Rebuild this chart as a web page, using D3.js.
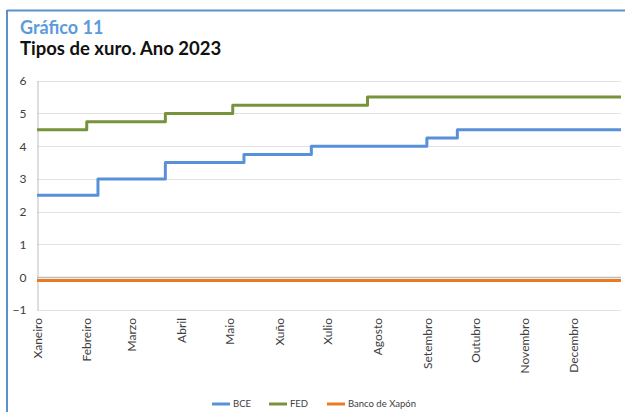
<!DOCTYPE html>
<html>
<head>
<meta charset="utf-8">
<script src="https://cdn.jsdelivr.net/npm/d3@7"></script>
<style>
  html, body { margin: 0; padding: 0; background: #fff; }
  svg { display: block; }
</style>
</head>
<body>
<svg id="chart" width="625" height="412"></svg>
<script>
// Month labels shown along the x axis (Galician)
const months = ["Xaneiro", "Febreiro", "Marzo", "Abril", "Maio", "Xuño",
                "Xulio", "Agosto", "Setembro", "Outubro", "Novembro", "Decembro"];

// Policy rates: dates where each rate takes a new value (step after)
const bceDates  = ["2023-01-01", "2023-02-08", "2023-03-22", "2023-05-10", "2023-06-21", "2023-09-01", "2023-09-20", "2023-12-31"];
const bceValues = [2.5, 3.0, 3.5, 3.75, 4.0, 4.25, 4.5, 4.5];

const fedDates  = ["2023-01-01", "2023-02-01", "2023-03-22", "2023-05-03", "2023-07-26", "2023-12-31"];
const fedValues = [4.5, 4.75, 5.0, 5.25, 5.5, 5.5];

const bojDates  = ["2023-01-01", "2023-12-31"];
const bojValues = [-0.1, -0.1];

const yTicks = [-1, 0, 1, 2, 3, 4, 5, 6];

const seriesNames  = ["BCE", "FED", "Banco de Xapón"];
const seriesColors = ["#5890da", "#77933c", "#ec7a22"];

const parse = d3.timeParse("%Y-%m-%d");
const build = (dates, values) => dates.map((d, i) => ({ date: parse(d), value: values[i] }));
const series = [
  build(bceDates, bceValues),
  build(fedDates, fedValues),
  build(bojDates, bojValues)
];

const svg = d3.select("#chart");

// Frame (top and left rules)
svg.append("line").attr("x1", 7).attr("x2", 625).attr("y1", 10.5).attr("y2", 10.5)
  .attr("stroke", "#5b8fd0").attr("stroke-width", 2);
svg.append("line").attr("x1", 7).attr("x2", 7).attr("y1", 10).attr("y2", 412)
  .attr("stroke", "#5b8fd0").attr("stroke-width", 2);

// Titles
svg.append("text").attr("x", 20).attr("y", 34)
  .attr("font-family", "Lato").attr("font-weight", 700).attr("font-size", 18)
  .attr("fill", "#5b9bdc").text("Gráfico 11");
svg.append("text").attr("x", 20).attr("y", 54.5)
  .attr("font-family", "Lato").attr("font-weight", 700).attr("font-size", 18.5)
  .attr("fill", "#111").text("Tipos de xuro. Ano 2023");

const x = d3.scaleTime()
  .domain([parse("2023-01-01"), parse("2023-12-31")])
  .range([37, 621]);
const y = d3.scaleLinear().domain([-1, 6]).range([310, 80.7]);

// Horizontal gridlines
svg.append("g").selectAll("line").data(yTicks).join("line")
  .attr("x1", 37).attr("x2", 621)
  .attr("y1", d => Math.round(y(d)) + 0.5).attr("y2", d => Math.round(y(d)) + 0.5)
  .attr("stroke", d => d === 0 ? "#bdbdbd" : "#e3e3e3")
  .attr("stroke-width", d => d === 0 ? 1.5 : 1);

// Y axis
const yAxis = svg.append("g").attr("transform", "translate(37.5,0)")
  .call(d3.axisLeft(y).tickValues(yTicks).tickSize(0).tickPadding(11).tickFormat(d3.format("d")));
yAxis.select(".domain").attr("stroke", "#bdbdbd");
yAxis.selectAll("text").attr("font-family", "Lato").attr("font-size", 12).attr("fill", "#404040");

// X axis: month labels at month starts, rotated
const monthStarts = d3.timeMonths(parse("2023-01-01"), parse("2023-12-31"));
const xAxis = svg.append("g").attr("transform", "translate(0,310)")
  .call(d3.axisBottom(x).tickValues(monthStarts).tickSize(0)
    .tickFormat((d, i) => months[i]));
xAxis.select(".domain").remove();
xAxis.selectAll("text")
  .attr("font-family", "Lato").attr("font-size", 12).attr("fill", "#404040")
  .attr("transform", "rotate(-90)")
  .attr("text-anchor", "end")
  .attr("x", -8).attr("y", 0).attr("dy", "0.35em");

// Rate lines
const line = d3.line()
  .x(d => x(d.date))
  .y(d => y(d.value))
  .curve(d3.curveStepAfter);

svg.append("g").selectAll("path").data(series).join("path")
  .attr("d", line)
  .attr("fill", "none")
  .attr("stroke", (d, i) => seriesColors[i])
  .attr("stroke-width", 3)
  .attr("stroke-linejoin", "round");

// Legend
const legendX = [212, 269, 327];
const legend = svg.append("g").selectAll("g").data(seriesNames).join("g")
  .attr("transform", (d, i) => `translate(${legendX[i]},404)`);
legend.append("line").attr("x1", 0).attr("x2", 18).attr("y1", 0).attr("y2", 0)
  .attr("stroke", (d, i) => seriesColors[i]).attr("stroke-width", 3);
legend.append("text").attr("x", 21).attr("y", 0).attr("dy", "0.35em")
  .attr("font-family", "Lato").attr("font-size", 9.5).attr("fill", "#404040")
  .text(d => d);
</script>
</body>
</html>
